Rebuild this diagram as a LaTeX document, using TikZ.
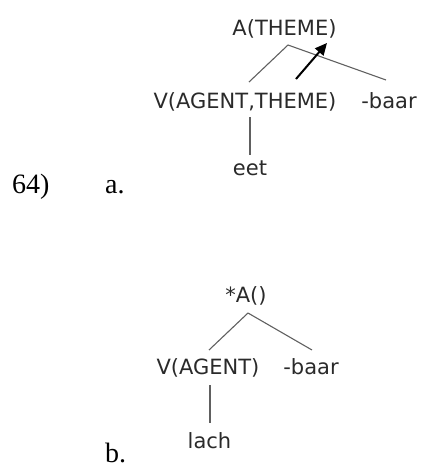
\documentclass[tikz,border=0pt]{standalone}
\usepackage{fontspec}
\setmainfont{Liberation Serif}
\newfontfamily\treefont{DejaVu Sans}
\usetikzlibrary{calc,arrows.meta}
\definecolor{treetext}{HTML}{2A2A2A}
\definecolor{treeline}{HTML}{606060}
\tikzset{
  lbl/.style={anchor=base, inner sep=0pt, text=treetext, font=\treefont\fontsize{21}{25}\selectfont},
  exlbl/.style={anchor=base west, inner sep=0pt, font=\fontsize{28}{32}\selectfont},
  branch/.style={draw=treeline, line width=1.1pt},
  movearrow/.style={draw=black, line width=2pt, -{Triangle[length=12pt,width=11pt]}}
}
\begin{document}
\begin{tikzpicture}[x=1pt,y=-1pt]
\useasboundingbox (0,0) rectangle (422,469);
% tree a
\node[lbl] (Aa) at (284.5,35) {A(THEME)};
\node[lbl] (Va) at (245,108) {V(AGENT,THEME)};
\node[lbl] (Ba) at (389,108) {-baar};
\node[lbl] (Ea) at (250,175) {eet};
\node[exlbl] (num) at (12,193) {64)};
\node[exlbl] (la) at (105,193) {a.};
\draw[branch] ($(Aa.base)+(3.5,10)$) -- ($(Va.base)+(4,-26)$);
\draw[branch] ($(Aa.base)+(3.5,10)$) -- ($(Ba.base)+(-3,-28)$);
\draw[branch] ($(Va.base)+(5,9)$) -- ($(Ea.base)+(0,-20)$);
\draw[movearrow] ($(Va.base)+(51,-29)$) -- ($(Aa.base)+(42.5,8)$);
% tree b
\node[lbl] (Ab) at (246,302) {*A()};
\node[lbl] (Vb) at (208,374) {V(AGENT)};
\node[lbl] (Bb) at (311,374) {-baar};
\node[lbl] (Lb) at (209.5,448) {lach};
\node[exlbl] (lb) at (105,462) {b.};
\draw[branch] ($(Ab.base)+(2,11)$) -- ($(Vb.base)+(1,-24)$);
\draw[branch] ($(Ab.base)+(2,11)$) -- ($(Bb.base)+(1,-24)$);
\draw[branch] ($(Vb.base)+(2,11)$) -- ($(Lb.base)+(0.5,-25)$);
\end{tikzpicture}
\end{document}
